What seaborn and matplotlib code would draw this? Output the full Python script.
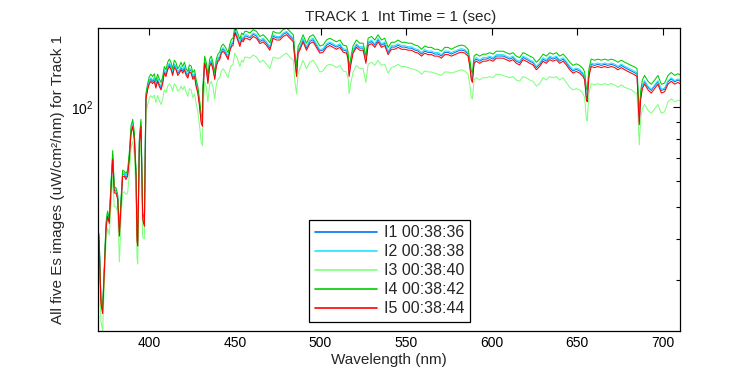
import matplotlib
matplotlib.use("Agg")
import matplotlib.pyplot as plt
import matplotlib.ticker as mticker
from matplotlib.lines import Line2D
import numpy as np
import pandas as pd
import seaborn as sns

wavelength = [
    370.6, 371.7, 372.7, 373.6, 374.7, 375.6, 376.6, 377.6, 378.6, 379.5,
    380.5, 381.5, 382.5, 383.4, 384.4, 385.4, 386.3, 387.3, 388.3, 389.3,
    390.3, 391.2, 392.2, 392.8, 393.2, 394.2, 395.1, 396.1, 397.1, 397.6,
    398.0, 399.0, 400.0, 400.9, 401.9, 402.9, 403.8, 404.8, 405.8, 406.8,
    407.8, 408.7, 409.7, 410.7, 411.7, 412.7, 413.6, 414.6, 415.6, 416.6,
    417.6, 418.5, 419.5, 420.5, 421.5, 422.5, 423.4, 424.4, 425.4, 426.4,
    427.3, 428.3, 429.3, 430.3, 431.0, 431.3, 432.3, 433.3, 434.2, 435.2,
    436.2, 437.2, 438.2, 439.1, 440.1, 441.1, 442.1, 443.1, 444.0, 445.0,
    446.0, 447.0, 448.0, 448.9, 449.9, 450.9, 451.9, 452.9, 453.9, 454.8,
    455.8, 456.8, 458.7, 460.7, 462.6, 464.6, 466.5, 468.5, 470.4, 472.3,
    474.3, 476.2, 478.2, 480.2, 482.1, 484.1, 485.0, 486.0, 486.9, 487.9,
    489.8, 491.8, 493.7, 495.7, 497.6, 499.6, 501.5, 503.5, 505.4, 507.4,
    509.3, 511.3, 513.2, 515.2, 516.1, 516.7, 517.5, 519.0, 521.0, 522.9,
    524.9, 526.5, 527.8, 529.8, 531.7, 533.6, 535.6, 537.5, 539.5, 541.4,
    543.4, 545.3, 547.3, 549.2, 551.2, 553.1, 555.1, 557.0, 559.0, 560.9,
    562.8, 564.8, 566.7, 568.7, 570.6, 572.6, 574.5, 576.5, 578.4, 580.4,
    582.3, 584.3, 586.2, 587.2, 588.1, 588.7, 589.7, 591.0, 593.0, 594.9,
    596.9, 598.8, 600.8, 602.7, 604.7, 606.6, 608.6, 610.5, 612.4, 614.4,
    616.3, 618.3, 620.2, 622.2, 624.1, 626.1, 628.0, 630.0, 631.9, 633.9,
    635.8, 637.8, 639.7, 641.7, 643.6, 645.6, 647.5, 649.4, 651.4, 653.4,
    654.3, 655.3, 655.8, 656.8, 658.1, 660.1, 662.0, 664.0, 666.0, 667.9,
    669.9, 671.8, 673.8, 675.7, 677.7, 679.6, 681.6, 683.5, 684.9, 685.7,
    686.2, 687.0, 688.0, 689.3, 691.3, 693.2, 695.2, 697.1, 699.1, 701.0,
    703.0, 704.9, 706.9, 708.8, 710.0,
]

i1_003836 = [
    40.5, 26, 24.2, 31.2, 43.5, 47.5, 45.2, 57.5, 70.8, 56,
    55.8, 53.4, 41.3, 50.8, 62.8, 62.7, 61.4, 62.8, 70.6, 84.7,
    89, 81.2, 62.7, 39.9, 38.6, 79, 89, 46.5, 44.3, 72,
    107.3, 114.7, 119.8, 121.7, 119.8, 121.8, 116.1, 121.8, 117.5, 114.7,
    119.8, 129, 125.9, 132, 135, 132, 126.9, 134, 132, 126.9,
    128.9, 132, 128.9, 132, 126.9, 124.5, 130, 128.9, 123.4, 125.9,
    117.5, 112.2, 102.2, 91, 88.9, 111.7, 138, 132, 119.8, 135,
    138, 132, 123.4, 135, 140, 141.6, 148.2, 150.2, 148.2, 145.1,
    141.6, 150.2, 155.3, 156.3, 170.5, 166.5, 160.8, 155.3, 162.4, 160.4,
    164.4, 164.4, 162.4, 166.5, 164.4, 158.3, 160.4, 156.3, 151.2, 164.4,
    162.4, 162.4, 166.5, 168.5, 164.4, 160.4, 141.6, 126, 148.2, 151.2,
    160.4, 151.2, 158.3, 160.4, 154.3, 148.2, 149.2, 154.3, 156.3, 154.3,
    152.3, 154.3, 149.2, 148.2, 141.6, 125.9, 135, 148.2, 154.3, 151.2,
    151.2, 138, 156.3, 158.3, 154.3, 160.4, 154.3, 156.3, 146.7, 152.3,
    152.3, 154.3, 152.3, 152.3, 151.2, 151.2, 149.2, 148.2, 145.1, 148.2,
    146.7, 146.7, 145.1, 145.1, 143.1, 146.7, 146.7, 145.1, 146.7, 148.2,
    149.2, 148.2, 145.1, 135, 122.8, 120.8, 138, 140, 138, 140,
    140, 141.6, 140, 143.1, 143.1, 143.1, 141.6, 140, 141.6, 138,
    136.5, 141.6, 140, 138, 136.5, 132, 135, 140, 138, 141.6,
    140, 141.6, 138, 140, 136.5, 132, 128.9, 130.4, 128.9, 125.9,
    122.8, 108, 107, 125.9, 135, 134, 135, 134, 135, 134,
    135, 134, 132, 134, 132, 130.4, 128.9, 127.4, 125.9, 102.5,
    90.5, 107.5, 116, 119.5, 115, 112.5, 116, 119.5, 112.5, 113.5,
    119.5, 122, 119.5, 121, 120,
]

i2_003838 = [
    41, 26.2, 24.4, 31.5, 44, 48, 45.6, 58.5, 72, 56.8,
    56.5, 54, 41.8, 51.4, 63.5, 63.3, 62, 63.4, 71.5, 85.5,
    90, 82, 63.4, 40.3, 39, 79.8, 90, 47, 44.8, 73,
    108.5, 116, 121, 123, 121, 123, 117.3, 123, 118.8, 115.9,
    121, 130.2, 127, 133.3, 136.3, 133.2, 128, 135.3, 133.2, 128,
    130.2, 133.2, 130.2, 133.3, 128, 125.8, 131.2, 130.2, 124.6, 127.1,
    118.7, 113.3, 103.2, 91.8, 89.8, 112.8, 139.4, 133.3, 121, 136.3,
    139.4, 133.3, 124.6, 136.3, 141.5, 143, 149.6, 151.7, 149.6, 146.6,
    143, 151.7, 156.8, 157.9, 172, 168, 162.4, 156.8, 164, 162,
    166, 166, 164, 168, 166, 160, 162, 158, 152.7, 166,
    164, 164, 168, 170, 166, 162, 143, 127.5, 149.6, 152.7,
    162, 152.7, 160, 162, 155.8, 149.6, 150.7, 155.8, 157.9, 155.8,
    153.8, 155.8, 150.7, 149.6, 143, 127.1, 136.3, 149.6, 155.8, 152.7,
    152.7, 139.4, 157.9, 160, 155.8, 162, 155.8, 157.9, 148.1, 153.8,
    153.8, 155.8, 153.8, 153.8, 152.7, 152.7, 150.7, 149.6, 146.6, 149.6,
    148.1, 148.1, 146.6, 146.6, 144.5, 148.1, 148.1, 146.6, 148.1, 149.6,
    150.7, 149.6, 146.6, 136.3, 124, 122, 139.4, 141.5, 139.4, 141.5,
    141.5, 143, 141.5, 144.5, 144.5, 144.5, 143, 141.5, 143, 139.4,
    137.9, 143, 141.5, 139.4, 137.9, 133.3, 136.3, 141.5, 139.4, 143,
    141.5, 143, 139.4, 141.5, 137.9, 133.3, 130.2, 131.7, 130.2, 127.1,
    124, 109, 108, 127.1, 136.3, 135.3, 136.3, 135.3, 136.3, 135.3,
    136.3, 135.3, 133.3, 135.3, 133.3, 131.7, 130.2, 128.6, 127.1, 103.5,
    91.5, 108.5, 117, 120.5, 116, 113.5, 117, 120.5, 113.5, 114.5,
    120.5, 123, 120.5, 122, 121,
]

i3_003840 = [
    36, 22.5, 21, 28, 39.5, 43, 41, 51, 62, 50,
    50, 48, 34, 45.5, 55, 55.5, 54.5, 55, 62.5, 75,
    79, 72, 55.5, 35, 33.5, 70, 79, 40.5, 40, 63,
    95, 102, 107, 108.5, 107, 109, 103.5, 108.5, 105, 102,
    106, 113, 111, 116, 118, 116, 112, 118, 116, 112,
    113, 116, 113, 116, 111, 108, 114, 113, 107, 110,
    103, 97, 88, 78.5, 76.5, 96, 120, 115, 104, 117,
    120, 115, 106, 117, 122, 123, 129, 131, 129, 126,
    123, 130, 134, 135, 146, 143, 138, 133, 139, 137,
    142, 142, 141, 144, 142, 137, 139, 135, 131, 142,
    141, 141, 144, 146, 142, 139, 120, 110, 127, 131,
    139, 131, 137, 139, 134, 128, 129, 134, 135, 134,
    132, 134, 129, 128, 122, 110, 117, 128, 134, 131,
    131, 119, 135, 137, 134, 139, 134, 135, 127, 132,
    133, 135, 133, 133, 132, 131, 130, 129, 126, 129,
    128, 128, 127, 126, 125, 128, 128, 127, 128, 129,
    130, 129, 126, 117, 107, 106, 121, 123, 121, 123,
    123, 124, 123, 126, 126, 125, 124, 123, 124, 121,
    120, 124, 123, 121, 120, 116, 118, 123, 121, 124,
    123, 124, 121, 123, 119, 115, 113, 114, 113, 110,
    107, 92, 91, 110, 118, 117, 118, 117, 118, 117,
    118, 117, 115, 117, 115, 114, 113, 111, 110, 88,
    77, 92, 99, 102, 98, 96, 99, 102, 96, 97,
    104, 106, 104, 105, 105,
]

i4_003842 = [
    41.5, 26.5, 24.5, 32, 45, 48.5, 46, 59, 74, 57.5,
    57, 54.5, 42, 52, 64.5, 64, 63, 64.5, 73, 88,
    92, 84, 64.5, 41, 39.5, 81.5, 92, 48, 45.5, 74.5,
    110, 118, 124, 126, 124, 126.5, 120, 126, 122, 119,
    124, 133, 130, 137, 140, 136.5, 131, 139, 136.5, 131,
    133.5, 137, 133, 137, 131, 128.5, 134.5, 133.5, 127.5, 130,
    121.5, 116, 106, 95, 93, 116, 143, 136.5, 124, 140,
    143, 136.5, 127.5, 140, 145, 147, 153.5, 155.5, 153.5, 150,
    146.5, 155.5, 161, 162, 176, 172, 166.5, 161, 168, 166,
    170, 170, 168, 172, 170, 164, 166, 162, 157, 170,
    168, 168, 172, 174, 170, 166, 146, 133, 153, 156.5,
    166, 156.5, 164, 166, 160, 153.5, 154.5, 160, 162, 160,
    158, 160, 154.5, 153.5, 147, 132, 140, 153.5, 160, 156.5,
    156.5, 143, 162, 164, 160, 166, 160, 162, 152, 157.5,
    157.5, 160, 157.5, 157.5, 156.5, 156.5, 154.5, 153.5, 150, 153.5,
    152, 152, 150, 150, 148, 152, 152, 150, 152, 153.5,
    154.5, 153.5, 150, 140, 129, 127, 143, 145, 143, 145,
    145, 146.5, 145, 148, 148, 148, 146.5, 145, 146.5, 143,
    141.5, 146.5, 145, 143, 141.5, 137, 140, 145, 143, 146.5,
    145, 146.5, 143, 145, 141.5, 137, 134, 135.5, 134, 131,
    128, 114, 113, 131, 140, 139, 140, 139, 140, 139,
    140, 139, 137, 139, 137, 135.5, 134, 132.5, 131, 108,
    96, 112, 121, 125, 120, 117.5, 121, 125, 117.5, 118.5,
    125, 127.5, 125, 126.5, 125.5,
]

i5_003844 = [
    39.5, 25.5, 23.7, 30.7, 42.7, 46.8, 44.5, 56.4, 69.6, 55,
    55, 52.6, 40.7, 50, 61.8, 61.8, 60.5, 61.8, 69.6, 83.4,
    87.6, 80, 61.8, 39.3, 38, 77.8, 87.6, 45.8, 43.6, 71,
    105.7, 113, 118, 119.9, 118, 120, 114.4, 120, 115.8, 113,
    118, 127, 124, 130, 133, 130, 125, 132, 130, 125,
    127, 130, 127, 130, 125, 122.7, 128, 127, 121.6, 124,
    115.8, 110.5, 100.7, 89.6, 87.6, 110, 136, 130, 118, 133,
    136, 130, 121.6, 133, 138, 139.5, 146, 148, 146, 143,
    139.5, 148, 153, 154, 168, 164, 158.4, 153, 160, 158,
    162, 162, 160, 164, 162, 156, 158, 154, 149, 162,
    160, 160, 164, 166, 162, 158, 139.5, 124, 146, 149,
    158, 149, 156, 158, 152, 146, 147, 152, 154, 152,
    150, 152, 147, 146, 139.5, 124, 133, 146, 152, 149,
    149, 136, 154, 156, 152, 158, 152, 154, 144.5, 150,
    150, 152, 150, 150, 149, 149, 147, 146, 143, 146,
    144.5, 144.5, 143, 143, 141, 144.5, 144.5, 143, 144.5, 146,
    147, 146, 143, 133, 121, 119, 136, 138, 136, 138,
    138, 139.5, 138, 141, 141, 141, 139.5, 138, 139.5, 136,
    134.5, 139.5, 138, 136, 134.5, 130, 133, 138, 136, 139.5,
    138, 139.5, 136, 138, 134.5, 130, 127, 128.5, 127, 124,
    121, 105.5, 104, 124, 133, 132, 133, 132, 133, 132,
    133, 132, 130, 132, 130, 128.5, 127, 125.5, 124, 100.7,
    88.6, 105.5, 114, 117.6, 113, 110.5, 114, 117.6, 110.5, 111.5,
    117.6, 120, 117.6, 119, 118,
]

series_names = ["I1 00:38:36", "I2 00:38:38", "I3 00:38:40", "I4 00:38:42", "I5 00:38:44"]
series_values = [i1_003836, i2_003838, i3_003840, i4_003842, i5_003844]
series_colors = ["#0072ee", "#22e4ff", "#80ff80", "#00cc00", "#ff0000"]

frames = []
for name, vals in zip(series_names, series_values):
    frames.append(pd.DataFrame({"Wavelength": wavelength, "Es": vals, "Image": name}))
df = pd.concat(frames, ignore_index=True)

sns.set_style("white")
plt.rcParams["font.family"] = ["Liberation Sans", "DejaVu Sans"]
plt.rcParams["mathtext.fontset"] = "custom"
plt.rcParams["mathtext.rm"] = "Liberation Sans"

fig = plt.figure(figsize=(7.5, 3.75), dpi=100, facecolor="white")
ax = fig.add_axes([98 / 750, 1 - 331 / 375, (680 - 98) / 750, (331 - 28) / 375])

sns.lineplot(data=df, x="Wavelength", y="Es", hue="Image", hue_order=series_names,
             palette=dict(zip(series_names, series_colors)), estimator=None,
             sort=False, linewidth=0.75, ax=ax, legend=False)

ax.set_yscale("log")
ax.set_xlim(370, 710)
ax.set_ylim(21, 174)
ax.set_xticks([400, 450, 500, 550, 600, 650, 700])
ax.yaxis.set_major_locator(mticker.LogLocator(base=10))
ax.yaxis.set_minor_locator(mticker.LogLocator(base=10, subs=np.arange(2, 10)))
ax.yaxis.set_minor_formatter(mticker.NullFormatter())

ax.tick_params(axis="both", which="both", direction="in", top=True, right=True,
               labelsize=10, colors="black")
ax.tick_params(axis="both", which="major", length=5, width=0.8)
ax.tick_params(axis="both", which="minor", length=3, width=0.8)
for sp in ax.spines.values():
    sp.set_color("black")
    sp.set_linewidth(0.9)

ax.set_xlabel("Wavelength (nm)", fontsize=11, labelpad=2)
ax.set_ylabel("All five Es images (uW/cm\u00b2/nm) for Track 1", fontsize=11, labelpad=4)
ax.set_title("TRACK 1  Int Time = 1 (sec)", fontsize=11, pad=5, x=0.52)

handles = [Line2D([0], [0], color=c, lw=1.2) for c in series_colors]
leg = ax.legend(handles, series_names, loc="lower center", bbox_to_anchor=(0.501, 0.03),
                borderaxespad=0, fontsize=11.5, frameon=True, fancybox=False,
                framealpha=1, edgecolor="black", handlelength=3.9, handletextpad=0.4,
                labelspacing=0.25, borderpad=0.35)
leg.get_frame().set_linewidth(0.9)

fig.savefig("out.png", dpi=100, facecolor="white")
